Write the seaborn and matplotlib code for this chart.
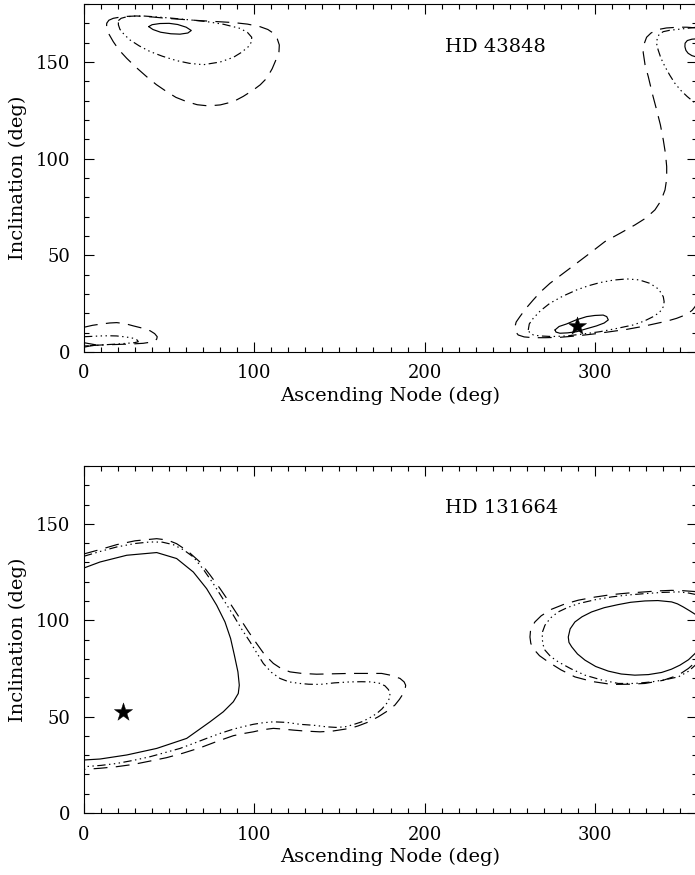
import matplotlib
matplotlib.use("Agg")
import matplotlib.pyplot as plt
from matplotlib.ticker import MultipleLocator
import pandas as pd
import seaborn as sns

# ---------------- data ----------------
# HD 43848 (upper panel)
a_solid_left_x = [38.0, 40.0, 44.6, 50.0, 55.0, 60.0, 63.0, 61.0, 56.4, 51.0, 45.0, 40.5, 38.0]
a_solid_left_y = [168.3, 169.3, 169.9, 170.0, 169.4, 168.0, 166.3, 165.0, 164.4, 164.6, 165.4, 166.8, 168.3]
a_dd_left_x = [20.2, 21.8, 25.1, 30.0, 34.8, 43.0, 52.4, 62.0, 72.0, 82.0, 91.6, 96.0, 98.5, 98.3, 96.5, 92.5,
               87.7, 80.0, 70.1, 62.0, 54.4, 46.0, 38.8, 32.5, 27.0, 23.5, 21.1, 20.2, 20.2]
a_dd_left_y = [171.4, 172.6, 173.4, 173.8, 173.8, 173.3, 172.6, 171.8, 170.9, 169.5, 167.4, 165.3, 162.8, 160.3,
               157.9, 155.0, 152.4, 150.0, 148.6, 149.3, 150.7, 153.0, 155.4, 158.3, 161.4, 164.3, 166.9, 169.2,
               171.4]
a_dash_left_x = [13.3, 14.6, 17.2, 23.0, 30.9, 40.0, 48.5, 58.0, 68.1, 78.0, 87.7, 96.0, 103.3, 108.0, 111.2,
                 113.5, 114.7, 114.5, 113.1, 110.5, 107.3, 103.5, 99.4, 93.5, 87.7, 80.0, 73.0, 66.5, 60.3, 54.0,
                 48.5, 42.5, 36.8, 30.5, 25.1, 20.5, 17.2, 14.6, 13.3, 13.3]
a_dash_left_y = [170.0, 171.6, 172.6, 173.5, 173.8, 173.3, 172.6, 172.0, 171.4, 170.9, 170.4, 169.6, 168.3,
                 166.8, 164.9, 162.0, 158.8, 155.3, 151.9, 146.5, 141.6, 138.2, 135.5, 132.2, 129.5, 127.8,
                 127.3, 127.9, 129.5, 131.7, 134.7, 138.3, 142.4, 147.3, 151.9, 156.3, 160.5, 164.5, 168.0,
                 170.0]

a_solid_corner_x = [0.0, 7.0, 0.0]
a_solid_corner_y = [4.8, 3.7, 2.5]
a_dd_corner_x = [0.0, 5.0, 9.4, 14.5, 19.2, 24.5, 29.0, 31.2, 31.9, 29.5, 25.1, 19.0, 13.3, 6.5, 0.0]
a_dd_corner_y = [7.9, 8.1, 8.3, 8.4, 8.3, 7.8, 7.1, 6.2, 5.3, 4.8, 4.5, 4.1, 3.8, 3.4, 3.1]
a_dash_corner_x = [0.0, 5.0, 10.4, 15.0, 19.2, 24.0, 29.0, 34.0, 38.8, 41.5, 43.0, 42.7, 41.7, 38.5, 34.8,
                   29.0, 23.1, 16.0, 9.4, 0.0]
a_dash_corner_y = [12.8, 13.8, 14.5, 15.0, 15.2, 14.7, 13.5, 12.4, 11.0, 9.5, 7.9, 6.7, 5.8, 5.0, 4.5,
                   4.2, 4.0, 3.8, 3.6, 3.1]

a_solid_low_x = [276.6, 279.0, 283.4, 289.0, 295.2, 300.0, 304.9, 307.0, 307.9, 305.5, 301.0, 295.0, 289.3,
                 284.0, 279.5, 277.2, 276.6]
a_solid_low_y = [11.4, 13.2, 14.5, 16.6, 18.3, 18.9, 19.1, 18.3, 16.6, 15.0, 13.5, 12.0, 10.5, 9.9, 9.7,
                 10.3, 11.4]
a_dd_low_x = [260.9, 261.5, 263.8, 268.0, 273.6, 281.0, 289.3, 296.0, 303.0, 311.0, 318.7, 326.0, 332.4,
              337.5, 340.2, 340.7, 340.2, 338.0, 334.3, 329.0, 322.6, 313.0, 303.0, 293.0, 283.4, 275.0,
              267.8, 264.0, 261.9, 260.9]
a_dd_low_y = [11.4, 14.5, 17.4, 21.3, 25.2, 28.8, 32.1, 34.2, 35.9, 37.2, 37.8, 37.3, 35.5, 32.5, 28.6, 26.0,
              23.4, 20.5, 18.3, 16.0, 14.0, 12.2, 10.5, 9.3, 8.3, 8.0, 8.3, 8.8, 9.7, 11.4]
a_dash_right_x = [360.0, 354.0, 349.0, 342.0, 337.2, 333.0, 330.4, 328.8, 328.4, 329.5, 331.4, 333.8, 336.3,
                  338.5, 340.2, 341.5, 342.2, 342.2, 341.2, 338.8, 335.3, 330.0, 323.5, 315.0, 305.9, 297.1,
                  285.4, 273.6, 268.0, 263.8, 259.5, 256.0, 253.8, 253.1, 253.5, 255.0, 258.5, 263.8, 271.0,
                  279.5, 289.0, 299.1, 309.0, 318.7, 328.0, 336.3, 342.5, 348.0, 351.8, 354.8, 357.2, 358.8,
                  360.0]
a_dash_right_y = [167.6, 168.0, 168.0, 167.6, 166.8, 165.0, 162.8, 159.0, 155.0, 148.5, 142.4, 133.5, 125.2,
                  117.5, 109.7, 102.5, 95.9, 89.5, 83.8, 78.2, 73.5, 69.3, 65.7, 61.5, 57.1, 51.1, 43.3, 35.5,
                  31.0, 26.9, 22.5, 18.3, 15.5, 13.1, 10.5, 8.8, 7.8, 7.4, 7.4, 7.6, 8.3, 9.3, 10.5, 11.7, 13.2,
                  14.8, 16.0, 17.4, 18.7, 20.0, 21.6, 23.4, 25.0]
a_dd_right_x = [360.0, 355.0, 350.0, 344.0, 340.2, 337.8, 336.6, 336.4, 337.2, 338.8, 341.2, 344.0, 347.0,
                350.5, 354.3, 357.2, 360.0]
a_dd_right_y = [168.0, 167.5, 167.0, 166.4, 165.7, 164.3, 162.3, 159.0, 156.2, 152.0, 147.6, 143.2, 139.0,
                135.3, 132.1, 130.0, 128.0]
a_solid_right_x = [360.0, 357.0, 354.3, 353.0, 352.9, 353.5, 354.8, 357.0, 360.0]
a_solid_right_y = [162.0, 161.8, 161.1, 159.7, 157.9, 156.0, 154.5, 153.3, 152.5]

a_best_x = [289.7]
a_best_y = [13.5]

# HD 131664 (lower panel)
b_solid_left_x = [0.0, 9.4, 25.1, 42.7, 54.4, 64.2, 72.0, 77.9, 82.8, 86.1, 88.3, 90.4, 91.2, 90.6, 87.7,
                  81.8, 74.0, 60.3, 42.7, 25.1, 9.4, 0.0]
b_solid_left_y = [127.1, 130.2, 133.7, 135.1, 132.0, 125.0, 116.4, 107.8, 99.1, 90.5, 81.9, 73.2, 66.3, 62.0,
                  57.7, 52.5, 47.3, 38.7, 33.5, 30.1, 28.0, 27.5]
b_dd_left_x = [0.0, 10.0, 19.2, 30.0, 38.8, 46.0, 52.4, 58.5, 64.2, 70.0, 75.9, 82.0, 87.7, 92.5, 97.5, 101.5,
               105.3, 110.0, 115.1, 120.5, 126.8, 132.0, 138.6, 147.0, 156.2, 163.0, 168.9, 173.5, 176.7,
               178.8, 179.7, 179.4, 177.7, 175.0, 171.9, 167.5, 163.1, 158.0, 153.3, 148.0, 142.5, 135.0,
               126.8, 119.0, 111.2, 105.0, 99.4, 93.5, 87.7, 80.0, 72.0, 64.0, 56.4, 47.0, 38.8, 29.0, 19.2,
               10.0, 0.0]
b_dd_left_y = [133.2, 135.8, 138.0, 139.8, 140.6, 140.5, 139.2, 136.5, 132.8, 126.5, 119.0, 110.5, 102.6, 95.5,
               88.8, 83.0, 77.6, 73.0, 69.8, 68.0, 67.2, 66.8, 66.7, 67.5, 68.0, 68.1, 68.0, 67.3, 66.0, 64.0,
               62.0, 59.5, 56.8, 54.0, 51.6, 49.2, 47.3, 45.8, 44.7, 44.4, 44.7, 45.5, 46.0, 47.0, 47.3, 46.8,
               46.0, 44.8, 43.5, 41.3, 38.7, 36.0, 33.5, 31.2, 29.2, 27.3, 25.7, 24.7, 24.0]
b_dash_left_x = [0.0, 10.0, 19.2, 30.0, 42.7, 49.0, 54.4, 61.0, 68.1, 74.0, 79.9, 86.0, 91.6, 96.5, 101.4,
                 106.0, 111.2, 116.0, 121.0, 128.0, 136.6, 146.0, 156.2, 166.0, 174.8, 180.5, 185.6, 188.0,
                 188.9, 188.6, 187.5, 185.3, 182.6, 178.0, 172.8, 167.0, 161.1, 157.0, 153.3, 146.0, 138.6,
                 130.0, 122.9, 116.0, 111.2, 105.0, 99.4, 93.5, 87.7, 78.0, 68.1, 58.0, 48.5, 38.0, 29.0, 19.0,
                 9.4, 0.0]
b_dash_left_y = [134.4, 136.8, 139.2, 141.2, 142.3, 141.6, 139.7, 135.8, 130.2, 123.5, 116.4, 108.5, 100.9,
                 94.2, 87.9, 82.2, 77.6, 74.8, 73.2, 72.4, 72.0, 72.2, 72.4, 72.4, 72.4, 71.4, 69.8, 68.0, 66.3,
                 64.0, 62.0, 59.0, 56.0, 52.8, 49.9, 47.2, 45.2, 44.1, 43.5, 42.5, 42.1, 42.5, 43.0, 43.6, 43.9,
                 43.2, 42.1, 41.2, 40.1, 37.1, 33.8, 31.0, 28.7, 26.8, 25.2, 24.0, 23.2, 22.6]

b_solid_right_x = [360.0, 355.5, 351.9, 348.5, 345.1, 337.0, 329.4, 321.0, 313.7, 305.5, 298.1, 292.5, 288.3,
                   285.5, 284.4, 284.8, 286.4, 289.8, 294.2, 300.5, 307.9, 315.5, 323.5, 331.5, 339.2, 345.0,
                   350.0, 355.0, 358.8, 360.0]
b_solid_right_y = [102.5, 105.0, 106.9, 108.5, 109.5, 110.2, 110.0, 109.3, 108.1, 106.5, 104.3, 101.8, 99.1,
                   95.5, 91.3, 88.5, 86.2, 82.5, 79.3, 76.0, 73.6, 72.1, 71.5, 71.8, 72.9, 74.6, 76.7, 79.5,
                   82.7, 84.0]
b_dd_right_x = [360.0, 354.5, 349.0, 339.0, 329.4, 319.5, 309.9, 300.0, 290.3, 284.0, 278.5, 274.0, 270.7,
                269.3, 269.1, 269.5, 270.7, 274.0, 278.5, 286.0, 294.2, 304.0, 313.7, 323.5, 333.3, 341.5,
                349.0, 355.0, 360.0]
b_dd_right_y = [113.2, 114.2, 114.7, 114.4, 113.8, 113.1, 112.1, 110.6, 108.6, 106.6, 104.3, 101.2, 97.4,
                94.0, 90.8, 87.5, 84.5, 81.2, 78.4, 74.8, 71.5, 69.0, 67.2, 67.2, 68.0, 69.2, 70.6, 73.5, 77.5]
b_dash_right_x = [360.0, 352.0, 345.1, 337.0, 329.4, 319.5, 309.9, 300.0, 290.3, 282.0, 274.6, 268.5, 264.8,
                  262.3, 261.9, 262.4, 263.8, 267.5, 272.6, 280.0, 288.3, 298.5, 309.9, 320.0, 329.4, 340.0,
                  349.0, 355.0, 360.0]
b_dash_right_y = [114.8, 115.3, 115.5, 115.2, 114.7, 114.1, 113.3, 112.0, 110.4, 108.3, 105.7, 102.3, 99.1,
                  95.3, 91.3, 88.0, 85.3, 81.6, 78.4, 74.3, 70.6, 68.2, 66.7, 66.8, 67.2, 68.8, 71.5, 75.0,
                  79.0]

b_best_x = [22.7]
b_best_y = [52.5]

star_names = ["HD 43848", "HD 131664"]
x_ticks = [0, 100, 200, 300]
y_ticks = [0, 50, 100, 150]

# ---------------- build long-form tables ----------------
pieces = [
    (0, "a1", "1", a_solid_left_x, a_solid_left_y),
    (0, "a2", "2", a_dd_left_x, a_dd_left_y),
    (0, "a3", "3", a_dash_left_x, a_dash_left_y),
    (0, "a4", "1", a_solid_corner_x, a_solid_corner_y),
    (0, "a5", "2", a_dd_corner_x, a_dd_corner_y),
    (0, "a6", "3", a_dash_corner_x, a_dash_corner_y),
    (0, "a7", "1", a_solid_low_x, a_solid_low_y),
    (0, "a8", "2", a_dd_low_x, a_dd_low_y),
    (0, "a9", "3", a_dash_right_x, a_dash_right_y),
    (0, "a10", "2", a_dd_right_x, a_dd_right_y),
    (0, "a11", "1", a_solid_right_x, a_solid_right_y),
    (1, "b1", "1", b_solid_left_x, b_solid_left_y),
    (1, "b2", "2", b_dd_left_x, b_dd_left_y),
    (1, "b3", "3", b_dash_left_x, b_dash_left_y),
    (1, "b4", "1", b_solid_right_x, b_solid_right_y),
    (1, "b5", "2", b_dd_right_x, b_dd_right_y),
    (1, "b6", "3", b_dash_right_x, b_dash_right_y),
]
rows = []
for panel, pid, lev, xs, ys in pieces:
    for i, (xv, yv) in enumerate(zip(xs, ys)):
        rows.append({"panel": panel, "piece": pid, "level": lev, "order": i, "node": xv, "incl": yv})
df = pd.DataFrame(rows)
best = pd.DataFrame({"panel": [0, 1], "node": a_best_x + b_best_x, "incl": a_best_y + b_best_y})

# ---------------- style ----------------
sns.set_theme(style="ticks")
plt.rcParams["font.family"] = ["DejaVu Serif"]
plt.rcParams["lines.scale_dashes"] = False
plt.rcParams["axes.edgecolor"] = "black"
plt.rcParams["xtick.color"] = "black"
plt.rcParams["ytick.color"] = "black"
plt.rcParams["text.color"] = "black"
plt.rcParams["axes.labelcolor"] = "black"

dash_map = {"1": "", "2": (6, 2.5, 1, 2.5, 1, 2.5, 1, 2.5), "3": (10, 6)}

W, H = 695, 875
fig = plt.figure(figsize=(W / 100, H / 100), dpi=100)
fig.patch.set_facecolor("white")
positions = [
    [84 / W, (H - 352) / H, 613 / W, 348 / H],
    [84 / W, (H - 813) / H, 613 / W, 347 / H],
]

for p in range(2):
    ax = fig.add_axes(positions[p])
    sub = df[df["panel"] == p]
    sns.lineplot(data=sub, x="node", y="incl", units="piece", style="level", estimator=None, sort=False,
                 dashes=dash_map, style_order=["1", "2", "3"], color="black", linewidth=0.85,
                 legend=False, ax=ax)
    bsub = best[best["panel"] == p]
    sns.scatterplot(data=bsub, x="node", y="incl", marker="*", s=190, color="black",
                    edgecolor="black", linewidth=0.3, ax=ax, zorder=5)
    ax.set_xlim(0, 360)
    ax.set_ylim(0, 180)
    ax.set_xticks(x_ticks)
    ax.set_yticks(y_ticks)
    ax.xaxis.set_minor_locator(MultipleLocator(10))
    ax.yaxis.set_minor_locator(MultipleLocator(10))
    ax.tick_params(which="both", direction="in", top=True, right=True, width=0.8,
                   labelsize=13)
    ax.tick_params(which="major", length=7.5)
    ax.tick_params(which="minor", length=3.8)
    ax.tick_params(axis="x", which="major", pad=9)
    ax.tick_params(axis="y", which="major", pad=10)
    for sp in ax.spines.values():
        sp.set_linewidth(0.8)
        sp.set_visible(True)
    ax.set_xlabel("Ascending Node (deg)", fontsize=14, labelpad=3)
    ax.set_ylabel("Inclination (deg)", fontsize=14, labelpad=6)
    ax.text(212, 158, star_names[p], fontsize=14, va="center", ha="left")

fig.savefig("out.png", dpi=100, facecolor="white")
